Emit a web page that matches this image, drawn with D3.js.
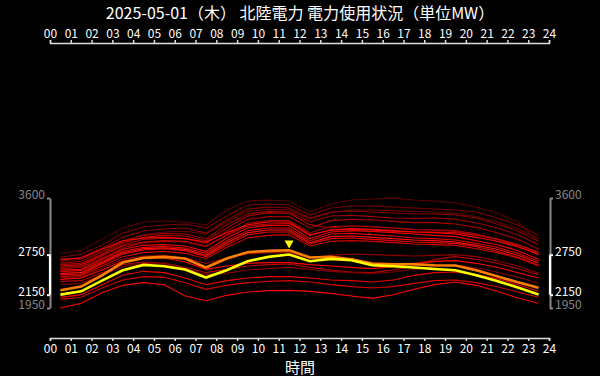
<!DOCTYPE html>
<html><head><meta charset="utf-8">
<script src="https://cdn.jsdelivr.net/npm/d3@7/dist/d3.min.js"></script>
<style>
html,body{margin:0;padding:0;background:#000;}
svg{display:block;background:#000;font-family:"Noto Sans CJK JP","Noto Sans",sans-serif;}
</style></head>
<body><svg id="c" width="600" height="376"></svg>
<script>
// ---- data ----
const title = "2025-05-01（木） 北陸電力 電力使用状況（単位MW）";
const xAxisLabel = "時間";
const hourTicks = d3.range(0, 25);
const yTicks = [1950, 2150, 2750, 3600];
const hourPoints = d3.range(0.5, 24, 1); // 00:30 ... 23:30

// today (yellow) and reference (orange)
const today = [2151,2200,2360,2516,2596,2577,2527,2407,2516,2652,2717,2753,2652,2687,2667,2592,2577,2557,2536,2516,2441,2356,2256,2151];
const compare = [2215,2271,2441,2632,2702,2717,2693,2557,2693,2787,2807,2817,2708,2717,2682,2617,2607,2607,2592,2587,2516,2426,2335,2253];

// past days (red)
const past01 = [2772,2817,2983,3149,3239,3254,3239,3194,3420,3555,3570,3555,3390,3510,3570,3585,3600,3570,3555,3525,3465,3374,3239,2938];
const past02 = [2712,2757,2893,3073,3164,3194,3209,3149,3330,3495,3510,3495,3344,3450,3480,3480,3465,3450,3435,3420,3390,3300,3194,3043];
const past03 = [2650,2680,2800,2960,3050,3090,3100,3060,3240,3400,3430,3420,3280,3380,3420,3420,3410,3400,3390,3370,3320,3240,3140,2990];
const past04 = [2667,2712,2848,3013,3104,3134,3149,3073,3270,3435,3465,3450,3300,3390,3405,3390,3374,3360,3360,3345,3300,3209,3104,2953];
const past05 = [2620,2650,2790,2950,3040,3070,3060,2990,3200,3360,3400,3390,3240,3330,3340,3320,3300,3290,3300,3280,3230,3150,3050,2900];
const past06 = [2560,2580,2730,2900,2980,3000,2990,2920,3100,3280,3320,3320,3150,3260,3280,3270,3250,3230,3230,3210,3160,3080,2980,2830];
const past07 = [2600,2620,2760,2930,3010,3040,3030,2960,3150,3330,3380,3370,3200,3150,3180,3170,3150,3130,3120,3110,3060,2990,2900,2780];
const past08 = [2540,2560,2700,2850,2930,2950,2940,2870,3050,3220,3260,3260,3080,3170,3180,3170,3150,3130,3120,3100,3050,2980,2880,2740];
const past09 = [2580,2600,2740,2880,2940,2960,2950,2880,3040,3180,3210,3220,3040,3120,3130,3120,3100,3090,3090,3080,3040,2980,2900,2790];
const past10 = [2680,2700,2830,2960,3000,3010,2990,2940,3080,3200,3240,3240,3050,3120,3140,3130,3110,3090,3080,3060,3010,2950,2870,2760];
const past11 = [2520,2530,2680,2830,2890,2900,2880,2800,3000,3150,3190,3190,2990,3090,3110,3100,3080,3060,3040,3020,2960,2900,2810,2680];
const past12 = [2500,2510,2650,2800,2860,2870,2850,2770,2960,3110,3150,3150,2960,3060,3070,3050,3030,3000,2990,2970,2920,2860,2770,2650];
const past13 = [2470,2480,2630,2780,2840,2850,2830,2740,2930,3080,3120,3120,2930,3020,3030,3010,2990,2970,2960,2940,2890,2830,2740,2620];
const past14 = [2450,2460,2610,2760,2820,2840,2810,2720,2900,3050,3090,3090,2910,2990,3000,2980,2960,2940,2930,2920,2870,2800,2710,2590];
const past15 = [2420,2440,2580,2720,2780,2800,2770,2690,2860,3000,3040,3050,2880,2950,2960,2950,2930,2910,2900,2890,2840,2780,2700,2580];
const past16 = [2400,2420,2550,2680,2730,2740,2700,2620,2700,2760,2780,2780,2700,2740,2760,2750,2740,2730,2740,2750,2720,2660,2580,2470];
const past17 = [2350,2360,2480,2600,2640,2620,2560,2480,2530,2580,2600,2610,2560,2520,2490,2480,2520,2580,2680,2720,2680,2620,2540,2450];
const past18 = [2380,2400,2520,2650,2700,2700,2640,2530,2580,2620,2630,2630,2600,2580,2560,2540,2570,2620,2650,2660,2620,2560,2480,2400];
const past19 = [2300,2320,2450,2570,2620,2610,2550,2450,2470,2520,2540,2560,2530,2500,2480,2470,2490,2530,2570,2590,2550,2490,2410,2320];
const past20 = [2110,2150,2300,2440,2500,2480,2400,2300,2360,2400,2420,2420,2400,2370,2360,2340,2370,2440,2480,2490,2450,2390,2300,2200];
const past21 = [2080,2110,2250,2370,2420,2410,2330,2230,2290,2330,2350,2360,2340,2300,2270,2250,2270,2320,2360,2370,2330,2270,2190,2110];
const past22 = [1950,2020,2180,2290,2330,2300,2130,2060,2140,2190,2210,2215,2200,2170,2130,2095,2150,2230,2300,2340,2290,2200,2100,2020];

const pastDays = [past01,past02,past03,past04,past05,past06,past07,past08,past09,past10,past11,past12,
                  past13,past14,past15,past16,past17,past18,past19,past20,past21,past22];
// shade per past day (style)
const pastColors = ["#5a0000","#7a0000","#6a0000","#8c0000","#990000","#a80000","#b00000","#9a0000","#c00000",
                    "#ff0000","#f00000","#e00000","#ff1010","#e80000","#d00000","#900000","#b80000","#ff0000",
                    "#800000","#ee0000","#d80000","#ff0000"];

// ---- chart ----
const svg = d3.select("#c");
const x = d3.scaleLinear().domain([0, 24]).range([50, 549]);
const y = d3.scaleLinear().domain([1950, 3600]).range([308, 198]);

svg.append("text").attr("x", 300).attr("y", 19).attr("text-anchor", "middle")
  .attr("fill", "#fff").attr("font-size", 16).text(title);

const fmtH = d => String(d).padStart(2, "0");
const topAx = svg.append("g").attr("transform", "translate(0,43)")
  .call(d3.axisTop(x).tickValues(hourTicks).tickFormat(fmtH).tickSize(3).tickSizeOuter(3).tickPadding(2));
const botAx = svg.append("g").attr("transform", "translate(0,338)")
  .call(d3.axisBottom(x).tickValues(hourTicks).tickFormat(fmtH).tickSize(3).tickSizeOuter(3).tickPadding(3));
[topAx, botAx].forEach(g => {
  g.selectAll("path,line").attr("stroke", "#ddd").attr("stroke-width", 1.5);
  g.selectAll("text").attr("fill", "#fff").attr("font-size", 12).attr("font-family", '"Noto Sans CJK JP","Noto Sans",sans-serif');
});
svg.append("text").attr("x", 300).attr("y", 373).attr("text-anchor", "middle")
  .attr("fill", "#fff").attr("font-size", 15).text(xAxisLabel);

function sideAxis(gen, xpos) {
  const g = svg.append("g").attr("transform", `translate(${xpos},0)`)
    .call(gen(y).tickValues(yTicks).tickSize(3).tickSizeOuter(0).tickPadding(2).tickFormat(d3.format("d")));
  g.select(".domain").attr("stroke", "#888").attr("stroke-width", 2);
  g.append("line").attr("x1", 0).attr("x2", 0).attr("y1", y(2750)).attr("y2", y(2150))
    .attr("stroke", "#fff").attr("stroke-width", 2.2);
  g.selectAll(".tick line").attr("stroke", d => (d === 2150 || d === 2750) ? "#fff" : "#888").attr("stroke-width", 2);
  g.selectAll(".tick text").attr("fill", d => (d === 2150 || d === 2750) ? "#fff" : "#888")
    .attr("dy", "0.05em")
    .attr("font-size", 12).attr("font-family", '"Noto Sans CJK JP","Noto Sans",sans-serif');
}
sideAxis(d3.axisLeft, 50);
sideAxis(d3.axisRight, 550);

const line = d3.line().x((d, i) => x(hourPoints[i])).y(d => y(d));
const plot = svg.append("g");
pastDays.forEach((s, i) => {
  plot.append("path").attr("d", line(s)).attr("fill", "none")
    .attr("stroke", pastColors[i]).attr("stroke-width", 1.1);
});
plot.append("path").attr("d", line(compare)).attr("fill", "none").attr("stroke", "#ff8000").attr("stroke-width", 2.6);
plot.append("path").attr("d", line(today)).attr("fill", "none").attr("stroke", "#ffff00").attr("stroke-width", 2.6);

// peak marker
const peakIdx = d3.maxIndex(today);
const px = x(hourPoints[peakIdx]), py = y(today[peakIdx]) - 6;
svg.append("path").attr("d", `M${px - 4.5},${py - 8} L${px + 4.5},${py - 8} L${px},${py} Z`).attr("fill", "#ffff00");
</script></body></html>
